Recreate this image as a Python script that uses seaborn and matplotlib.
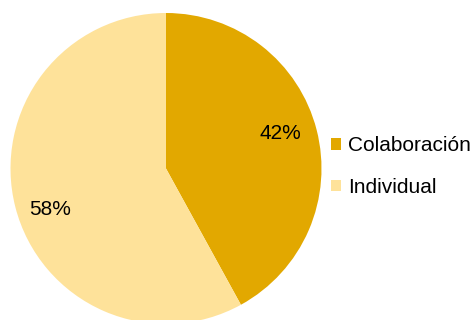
import matplotlib
matplotlib.use("Agg")
import matplotlib.pyplot as plt
import seaborn as sns
from matplotlib.patches import Patch

categories = ["Colaboración", "Individual"]
values = [42, 58]
colors = ["#E2A800", "#FEE29A"]
label_pos = [(0.733, 0.222), (-0.743, -0.262)]

sns.set_theme(style="white")
plt.rcParams['font.family'] = ['Liberation Sans', 'DejaVu Sans']

W, H = 474, 320
fig = plt.figure(figsize=(W / 100, H / 100), dpi=100)
cx, cy, r = 166, 168.5, 155.5
ax = fig.add_axes([(cx - r) / W, (H - cy - r) / H, 2 * r / W, 2 * r / H])
wedges, texts, autotexts = ax.pie(
    values, colors=colors, startangle=90, counterclock=False,
    autopct=lambda p: f"{p:.0f}%", pctdistance=0.78, radius=1,
    textprops=dict(fontsize=15, color="black"),
    wedgeprops=dict(linewidth=0))
for t, p in zip(autotexts, label_pos):
    t.set_position(p)
ax.set_xlim(-1, 1)
ax.set_ylim(-1, 1)
ax.set_aspect("auto")
ax.axis("off")

handles = [Patch(facecolor=c, edgecolor="none") for c in colors]
leg = fig.legend(handles, categories, loc="center left",
           bbox_to_anchor=(331 / W, (H - 166.5) / H), frameon=False,
           fontsize=15, handlelength=0.5, handleheight=0.5,
           handletextpad=0.3, labelspacing=1.1, borderpad=0, borderaxespad=0)
for t in leg.get_texts():
    t.set_color("black")

fig.savefig("out.png", dpi=100)
